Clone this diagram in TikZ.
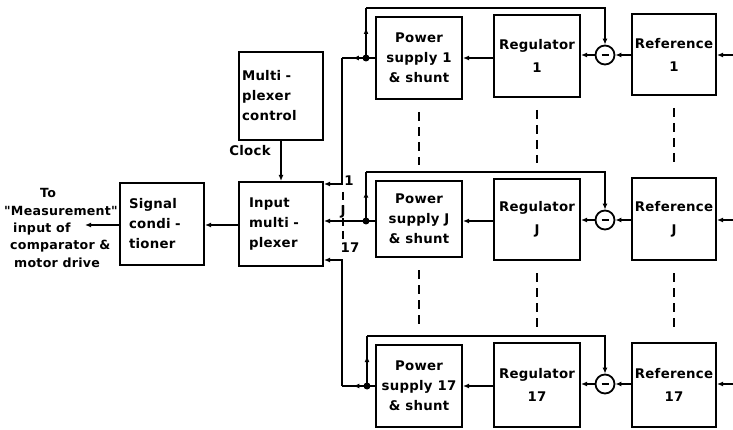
\documentclass[tikz,border=0pt]{standalone}
\usepackage{fontspec}
\newfontfamily\lettering[LetterSpace=2.0]{DejaVu Sans Bold}
\usetikzlibrary{arrows.meta,decorations.markings}
\begin{document}
\begin{tikzpicture}[x=1pt,y=-1pt,
  txt/.style={font=\lettering\fontsize{13.3}{20}\selectfont,inner sep=0pt},
  ltxt/.style={font=\lettering\fontsize{12.6}{19}\selectfont,inner sep=0pt},
  box/.style={txt,draw,line width=2pt,minimum width=86pt,align=center},
  lbox/.style={box,align=left},
  wire/.style={line width=2pt},
  arr/.style={wire,-{Latex[length=6pt,width=5pt]}},
  midarr/.style={postaction={decorate},decoration={markings,mark=at position #1 with {\arrow{Latex[length=6pt,width=5pt]}}}},
  vdash/.style={line width=2pt,dash pattern=on 9pt off 6pt,shorten <=12pt,shorten >=15pt},
  sumc/.style={circle,draw,line width=1.8pt,minimum size=19pt,inner sep=0pt},
  jdot/.style={circle,fill,minimum size=7pt,inner sep=0pt}
]
\useasboundingbox (0,0) rectangle (733,430);

% left boxes
\node[lbox,minimum height=82pt,text width=66pt,minimum width=84pt] (sc) at (162,224) {Signal\\condi -\\tioner};
\node[lbox,minimum height=88pt,text width=78pt,minimum width=84pt] (ctrl) at (281,96) {Multi -\\plexer\\control};
\node[lbox,minimum height=84pt,text width=64pt,minimum width=84pt] (mux) at (281,224) {Input\\multi -\\plexer};

% rows
\node[box,minimum height=82pt] (ps1) at (419,58) {Power\\supply 1\\\& shunt};
\node[box,minimum height=76pt] (psJ) at (419,219) {Power\\supply J\\\& shunt};
\node[box,minimum height=82pt] (ps17) at (419,386) {Power\\supply 17\\\& shunt};

\node[box,minimum height=82pt] (reg1) at (537,56) {Regulator\\[3pt]1};
\node[box,minimum height=81pt] (regJ) at (537,219.5) {Regulator\\[3pt]J};
\node[box,minimum height=84pt] (reg17) at (537,385) {Regulator\\[3pt]17};

\node[box,minimum height=81pt,minimum width=84pt] (ref1) at (674,54.5) {Reference\\[3pt]1};
\node[box,minimum height=82pt,minimum width=84pt] (refJ) at (674,219) {Reference\\[3pt]J};
\node[box,minimum height=84pt,minimum width=84pt] (ref17) at (674,385) {Reference\\[3pt]17};

\node[sumc] (c1) at (605,55) {\rule[-0.8pt]{7pt}{1.6pt}};
\node[sumc] (cJ) at (605,220) {\rule[-0.8pt]{7pt}{1.6pt}};
\node[sumc] (c17) at (605,384) {\rule[-0.8pt]{7pt}{1.6pt}};

\node[jdot] (d1) at (366,58) {};
\node[jdot] (dJ) at (366,221) {};
\node[jdot] (d17) at (367,386) {};

\coordinate (t1) at (366,8);
\coordinate (tJ) at (366,172);
\coordinate (t17) at (367,336);
\coordinate (e1) at (733,55);
\coordinate (eJ) at (733,220);
\coordinate (e17) at (733,384);
\coordinate (m1) at (342,58);
\coordinate (m17) at (342,386);
\coordinate (out) at (85,225);

% row wiring
\foreach \k in {1,J,17}{
  \draw[arr] (c\k.west) -- (reg\k.east |- c\k);
  \draw[arr] (ref\k.west |- c\k) -- (c\k.east);
  \draw[arr] (e\k) -- (ref\k.east |- c\k);
  \draw[arr] (reg\k.west |- d\k) -- (ps\k.east |- d\k);
  \draw[wire] (d\k.center) -- (ps\k.west |- d\k);
  \draw[wire,midarr=0.6] (d\k.center) -- (t\k);
  \draw[arr] (t\k) -| (c\k.north);
}

% multiplexer wiring
\draw[wire,midarr=0.55] (d1.center) -- (m1);
\draw[arr] (m1) |- ([yshift=-3pt]mux.north east);
\draw[arr] (dJ.center) -- (mux.east |- dJ);
\draw[wire,midarr=0.55] (d17.center) -- (m17);
\draw[arr] (m17) |- ([yshift=7pt]mux.south east);
\draw[line width=1.8pt,dash pattern=on 8pt off 5pt] (343,192) -- (343,242);
\node[txt] (l1) at (349,181) {1};
\node[txt] (lJ) at (343,212) {J};
\node[txt] (l17) at (350,248) {17};

% left chain
\draw[arr] (mux.west |- out) -- (sc.east |- out);
\draw[arr] (sc.west |- out) -- (out);
\draw[arr] (ctrl.south) -- (mux.north);
\node[txt] (clk) at (250,151) {Clock};

% dashed continuations
\draw[vdash] (ps1) -- (psJ);
\draw[vdash] (psJ) -- (ps17);
\draw[vdash] (reg1) -- (regJ);
\draw[vdash] (regJ) -- (reg17);
\draw[vdash] (ref1) -- (refJ);
\draw[vdash] (refJ) -- (ref17);

% left text
\node[ltxt] (to1) at (48,193) {To};
\node[ltxt] (to2) at (61,211) {"Measurement"};
\node[ltxt,anchor=west] (to3) at (13,229) {input of};
\node[ltxt,anchor=west] (to4) at (10,246) {comparator \&};
\node[ltxt,anchor=west] (to5) at (14,263) {motor drive};
\end{tikzpicture}
\end{document}
